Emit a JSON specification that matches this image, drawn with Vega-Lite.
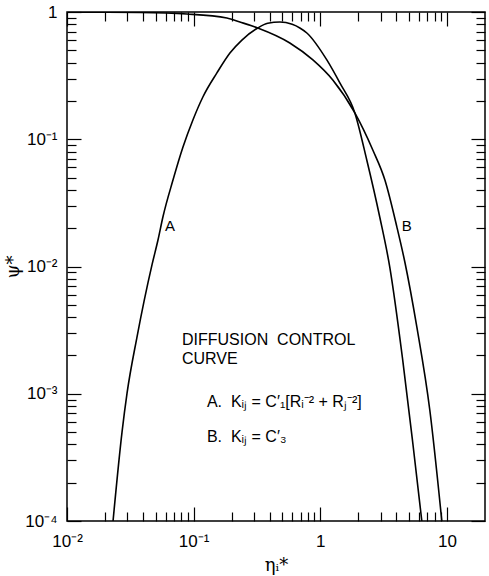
{
  "$schema": "https://vega.github.io/schema/vega-lite/v6.json",
  "width": 418,
  "height": 509,
  "autosize": {"type": "none"},
  "padding": {"left": 67, "top": 12, "right": 4, "bottom": 55},
  "background": "white",
  "config": {
    "view": {"stroke": "black", "strokeWidth": 1.5},
    "font": "Liberation Sans",
    "axis": {"grid": false, "domain": false, "tickColor": "black", "tickWidth": 1.2, "labelColor": "black", "titleColor": "black", "labelFont": "Liberation Sans", "titleFont": "DejaVu Serif", "labelOverlap": false, "labelFlush": false, "labelBound": false}
  },
  "datasets": {
    "curves": [
      {"curve": "A", "x": 0.0231, "y": 0.0001},
      {"curve": "A", "x": 0.0272, "y": 0.0005},
      {"curve": "A", "x": 0.0298, "y": 0.00101},
      {"curve": "A", "x": 0.0357, "y": 0.00279},
      {"curve": "A", "x": 0.0469, "y": 0.0103},
      {"curve": "A", "x": 0.0523, "y": 0.01615},
      {"curve": "A", "x": 0.0572, "y": 0.0245},
      {"curve": "A", "x": 0.0687, "y": 0.0478},
      {"curve": "A", "x": 0.0824, "y": 0.0869},
      {"curve": "A", "x": 0.0987, "y": 0.1417},
      {"curve": "A", "x": 0.1183, "y": 0.2148},
      {"curve": "A", "x": 0.1527, "y": 0.332},
      {"curve": "A", "x": 0.1935, "y": 0.476},
      {"curve": "A", "x": 0.2406, "y": 0.602},
      {"curve": "A", "x": 0.321, "y": 0.749},
      {"curve": "A", "x": 0.385, "y": 0.815},
      {"curve": "A", "x": 0.48, "y": 0.834},
      {"curve": "A", "x": 0.6, "y": 0.8},
      {"curve": "A", "x": 0.69, "y": 0.749},
      {"curve": "A", "x": 0.784, "y": 0.684},
      {"curve": "A", "x": 1.127, "y": 0.42},
      {"curve": "A", "x": 1.428, "y": 0.277},
      {"curve": "A", "x": 1.876, "y": 0.161},
      {"curve": "A", "x": 2.33, "y": 0.0687},
      {"curve": "A", "x": 2.95, "y": 0.0245},
      {"curve": "A", "x": 3.54, "y": 0.0099},
      {"curve": "A", "x": 4.48, "y": 0.00184},
      {"curve": "A", "x": 5.38, "y": 0.00041},
      {"curve": "A", "x": 6.34, "y": 0.0001},
      {"curve": "B", "x": 0.01, "y": 0.997},
      {"curve": "B", "x": 0.0377, "y": 0.99},
      {"curve": "B", "x": 0.0886, "y": 0.964},
      {"curve": "B", "x": 0.183, "y": 0.897},
      {"curve": "B", "x": 0.232, "y": 0.834},
      {"curve": "B", "x": 0.321, "y": 0.749},
      {"curve": "B", "x": 0.575, "y": 0.571},
      {"curve": "B", "x": 0.875, "y": 0.42},
      {"curve": "B", "x": 1.256, "y": 0.292},
      {"curve": "B", "x": 1.876, "y": 0.161},
      {"curve": "B", "x": 2.6, "y": 0.0823},
      {"curve": "B", "x": 3.24, "y": 0.0478},
      {"curve": "B", "x": 4.03, "y": 0.0204},
      {"curve": "B", "x": 4.66, "y": 0.0108},
      {"curve": "B", "x": 5.79, "y": 0.00335},
      {"curve": "B", "x": 7.33, "y": 0.000745},
      {"curve": "B", "x": 9.12, "y": 0.0001}
    ],
    "curveLabels": [
      {"text": "A", "x": 0.0594, "y": 0.0208},
      {"text": "B", "x": 4.4, "y": 0.0208}
    ],
    "notes": [
      {"text": "DIFFUSION\u00a0\u00a0CONTROL", "x": 0.0809, "y": 0.00264},
      {"text": "CURVE", "x": 0.0809, "y": 0.001875},
      {"text": "A.\u00a0\u00a0Kᵢⱼ = C′₁[Rᵢ⁻² + Rⱼ⁻²]", "x": 0.1273, "y": 0.000861},
      {"text": "B.\u00a0\u00a0Kᵢⱼ = C′₃", "x": 0.1273, "y": 0.000457}
    ]
  },
  "resolve": {"axis": {"x": "independent", "y": "independent"}},
  "layer": [
    {
      "data": {"name": "curves"},
      "mark": {"type": "line", "color": "black", "strokeWidth": 1.6, "interpolate": "monotone", "clip": true},
      "encoding": {
        "x": {"field": "x", "type": "quantitative", "scale": {"type": "log", "domain": [0.01, 20], "nice": false},
          "axis": {"orient": "bottom", "title": "ηᵢ*", "titleFontSize": 18, "titleFontWeight": "normal", "titlePadding": 2,
            "values": [0.01,0.02,0.03,0.04,0.05,0.06,0.07,0.08,0.09,0.1,0.2,0.3,0.4,0.5,0.6,0.7,0.8,0.9,1,2,3,4,5,6,7,8,9,10],
            "tickSize": {"condition": {"test": "abs(log(datum.value)/LN10 - round(log(datum.value)/LN10)) < 0.001", "value": -14}, "value": -9},
            "labelPadding": 26, "labelFontSize": 17,
            "labelExpr": "abs(log(datum.value)/LN10 - round(log(datum.value)/LN10)) < 0.001 ? (round(log(datum.value)/LN10) == 0 ? '1' : round(log(datum.value)/LN10) == 1 ? '10' : round(log(datum.value)/LN10) == -1 ? '10⁻¹' : '10⁻²') : ''"}},
        "y": {"field": "y", "type": "quantitative", "scale": {"type": "log", "domain": [0.0001, 1], "nice": false},
          "axis": {"orient": "left", "title": "ψ*", "titleFontSize": 18, "titleFontWeight": "normal", "titleX": -54, "titleBaseline": "middle",
            "values": [0.0001,0.0002,0.0003,0.0004,0.0005,0.0006,0.0007,0.0008,0.0009,0.001,0.002,0.003,0.004,0.005,0.006,0.007,0.008,0.009,0.01,0.02,0.03,0.04,0.05,0.06,0.07,0.08,0.09,0.1,0.2,0.3,0.4,0.5,0.6,0.7,0.8,0.9,1],
            "tickSize": {"condition": {"test": "abs(log(datum.value)/LN10 - round(log(datum.value)/LN10)) < 0.001", "value": -14}, "value": -9},
            "labelPadding": 24, "labelFontSize": 17,
            "labelExpr": "abs(log(datum.value)/LN10 - round(log(datum.value)/LN10)) < 0.001 ? (round(log(datum.value)/LN10) == 0 ? '1' : round(log(datum.value)/LN10) == -1 ? '10⁻¹' : round(log(datum.value)/LN10) == -2 ? '10⁻²' : round(log(datum.value)/LN10) == -3 ? '10⁻³' : '10⁻⁴') : ''"}},
        "detail": {"field": "curve", "type": "nominal"}
      }
    },
    {
      "data": {"name": "curves"},
      "mark": {"type": "point", "opacity": 0},
      "encoding": {
        "x": {"field": "x", "type": "quantitative", "scale": {"type": "log", "domain": [0.01, 20], "nice": false},
          "axis": {"orient": "top", "title": null, "labels": false,
            "values": [0.01,0.02,0.03,0.04,0.05,0.06,0.07,0.08,0.09,0.1,0.2,0.3,0.4,0.5,0.6,0.7,0.8,0.9,1,2,3,4,5,6,7,8,9,10],
            "tickSize": {"condition": {"test": "abs(log(datum.value)/LN10 - round(log(datum.value)/LN10)) < 0.001", "value": -14}, "value": -9}}},
        "y": {"field": "y", "type": "quantitative", "scale": {"type": "log", "domain": [0.0001, 1], "nice": false},
          "axis": {"orient": "right", "title": null, "labels": false,
            "values": [0.0001,0.0002,0.0003,0.0004,0.0005,0.0006,0.0007,0.0008,0.0009,0.001,0.002,0.003,0.004,0.005,0.006,0.007,0.008,0.009,0.01,0.02,0.03,0.04,0.05,0.06,0.07,0.08,0.09,0.1,0.2,0.3,0.4,0.5,0.6,0.7,0.8,0.9,1],
            "tickSize": {"condition": {"test": "abs(log(datum.value)/LN10 - round(log(datum.value)/LN10)) < 0.001", "value": -14}, "value": -9}}}
      }
    },
    {
      "data": {"name": "curveLabels"},
      "mark": {"type": "text", "align": "left", "baseline": "middle", "fontSize": 15, "font": "Liberation Sans", "color": "black"},
      "encoding": {
        "x": {"field": "x", "type": "quantitative", "scale": {"type": "log", "domain": [0.01, 20], "nice": false}, "axis": null},
        "y": {"field": "y", "type": "quantitative", "scale": {"type": "log", "domain": [0.0001, 1], "nice": false}, "axis": null},
        "text": {"field": "text"}
      }
    },
    {
      "data": {"name": "notes"},
      "mark": {"type": "text", "align": "left", "baseline": "middle", "fontSize": 16, "font": "Liberation Sans", "color": "black"},
      "encoding": {
        "x": {"field": "x", "type": "quantitative", "scale": {"type": "log", "domain": [0.01, 20], "nice": false}, "axis": null},
        "y": {"field": "y", "type": "quantitative", "scale": {"type": "log", "domain": [0.0001, 1], "nice": false}, "axis": null},
        "text": {"field": "text"}
      }
    }
  ]
}
